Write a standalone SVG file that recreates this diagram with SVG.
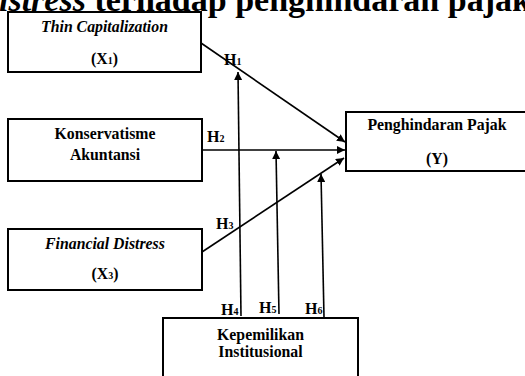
<svg xmlns="http://www.w3.org/2000/svg" width="525" height="376" viewBox="0 0 525 376">
<style>
text{font-family:"Liberation Serif","Times New Roman",serif;font-weight:bold;fill:#000}
.t{font-size:15.8px;text-anchor:middle}
.i{font-style:italic}
.h{font-size:16px}
.s{font-size:10px}
.box{fill:#fff;stroke:#000;stroke-width:2}
.c{stroke:#000;stroke-width:1.6;fill:none;marker-end:url(#ah)}
</style>
<defs>
<marker id="ah" viewBox="0 0 10 10" refX="10" refY="5" markerWidth="5" markerHeight="5" orient="auto" markerUnits="strokeWidth">
<path d="M0,0 L10,5 L0,10 z" fill="#000"/>
</marker>
</defs>
<rect width="525" height="376" fill="#fff"/>
<text id="title" x="-18" y="11" style="font-size:34px"><tspan class="i">distress</tspan> terhadap penghindaran pajak</text>
<g id="x1">
<rect class="box" x="8" y="12" width="193" height="60"/>
<text class="t i" x="104.5" y="32">Thin Capitalization</text>
<text class="t" x="104.5" y="64">(X<tspan class="s">1</tspan>)</text>
</g>
<g id="x2">
<rect class="box" x="8" y="119" width="194" height="62"/>
<text class="t" x="105" y="139">Konservatisme</text>
<text class="t" x="105" y="160">Akuntansi</text>
</g>
<g id="x3">
<rect class="box" x="8" y="229" width="194" height="61"/>
<text class="t i" x="105" y="249">Financial Distress</text>
<text class="t" x="105" y="279">(X<tspan class="s">3</tspan>)</text>
</g>
<g id="y">
<rect class="box" x="346" y="112" width="184" height="59"/>
<text class="t" x="437" y="130">Penghindaran Pajak</text>
<text class="t" x="437" y="164">(Y)</text>
</g>
<g id="z">
<rect class="box" x="163" y="318" width="195" height="70"/>
<text class="t" x="260.5" y="340">Kepemilikan</text>
<text class="t" x="260.5" y="357">Institusional</text>
</g>
<g id="connectors">
<line class="c" x1="201" y1="43" x2="345" y2="142"/>
<line class="c" x1="202" y1="150" x2="345" y2="150"/>
<line class="c" x1="202" y1="252" x2="344" y2="158"/>
<line class="c" x1="241" y1="316" x2="238" y2="72"/>
<line class="c" x1="279" y1="314" x2="276" y2="151"/>
<line class="c" x1="324" y1="317" x2="321" y2="174"/>
</g>
<g id="labels">
<text class="h" x="224" y="65">H<tspan class="s">1</tspan></text>
<text class="h" x="207" y="142">H<tspan class="s">2</tspan></text>
<text class="h" x="216" y="229">H<tspan class="s">3</tspan></text>
<text class="h" x="221" y="315">H<tspan class="s">4</tspan></text>
<text class="h" x="259" y="313">H<tspan class="s">5</tspan></text>
<text class="h" x="305" y="314">H<tspan class="s">6</tspan></text>
</g>
</svg>
